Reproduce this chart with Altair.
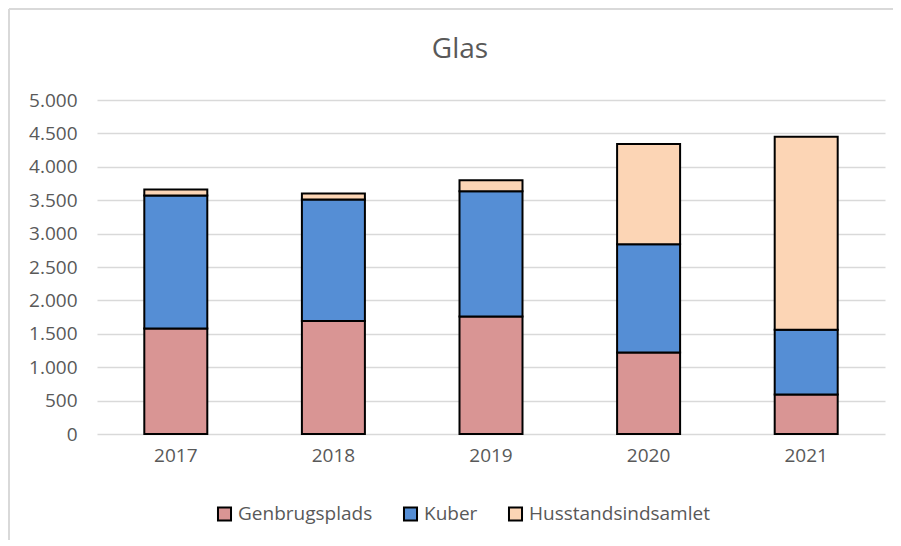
import altair as alt
import pandas as pd

title_text = "Glas"
years = ["2017", "2018", "2019", "2020", "2021"]
series = ["Genbrugsplads", "Kuber", "Husstandsindsamlet"]
genbrugsplads = [1580, 1690, 1760, 1220, 590]
kuber = [1990, 1820, 1875, 1620, 970]
husstand = [90, 90, 165, 1500, 2890]
colors = ["#d99594", "#558ed5", "#fcd5b5"]

rows = []
for i, y in enumerate(years):
    for k, (s, vals) in enumerate(zip(series, [genbrugsplads, kuber, husstand])):
        rows.append({"year": y, "series": s, "value": vals[i], "ord": k})
df = pd.DataFrame(rows)

FONT = "Open Sans"
GRAY = "#595959"

bars = alt.Chart(df).mark_bar(stroke="black", strokeWidth=2, size=63).encode(
    x=alt.X("year:N", sort=years, title=None,
            scale=alt.Scale(paddingInner=0.6, paddingOuter=0.3),
            axis=alt.Axis(labelAngle=0, ticks=False, domain=False, labelPadding=12,
                          labelFontSize=19, labelColor=GRAY, labelFont=FONT)),
    y=alt.Y("value:Q", stack="zero", title=None,
            scale=alt.Scale(domain=[0, 5000], nice=False),
            axis=alt.Axis(values=list(range(0, 5001, 500)), ticks=False, domain=False,
                          labelExpr="replace(format(datum.value, ','), ',', '.')",
                          labelFontSize=19, labelColor=GRAY, labelFont=FONT, labelPadding=20,
                          gridColor="#d9d9d9", gridWidth=1.5)),
    color=alt.Color("series:N", sort=series,
                    scale=alt.Scale(domain=series, range=colors),
                    legend=alt.Legend(title=None, orient="none", direction="horizontal",
                                      legendX=118, legendY=404, symbolType="square",
                                      symbolSize=170, symbolStrokeColor="black",
                                      symbolStrokeWidth=2, symbolOpacity=1,
                                      labelFontSize=19, labelColor=GRAY, labelFont=FONT,
                                      labelLimit=0, columnPadding=26, labelOffset=4)),
    order=alt.Order("ord:Q", sort="ascending"),
)

title = alt.Chart(pd.DataFrame({"t": [title_text]})).mark_text(
    font=FONT, fontSize=28, color=GRAY, baseline="alphabetic", align="center"
).encode(text="t:N", x=alt.value(363), y=alt.value(-42))

frame_top = alt.Chart(df).mark_rule(color="#d9d9d9", strokeWidth=2).encode(
    x=alt.value(-88), x2=alt.value(820), y=alt.value(-91))
frame_left = alt.Chart(df).mark_rule(color="#d9d9d9", strokeWidth=2).encode(
    x=alt.value(-88), y=alt.value(-91), y2=alt.value(460))

chart = alt.layer(frame_top, frame_left, title, bars).properties(
    width=788, height=334,
    autosize=alt.AutoSizeParams(type="none"),
    padding={"left": 89, "top": 92, "right": 8, "bottom": 106},
).configure_view(stroke=None)

chart.save("out.html", embed_options={"renderer": "svg", "actions": False})
